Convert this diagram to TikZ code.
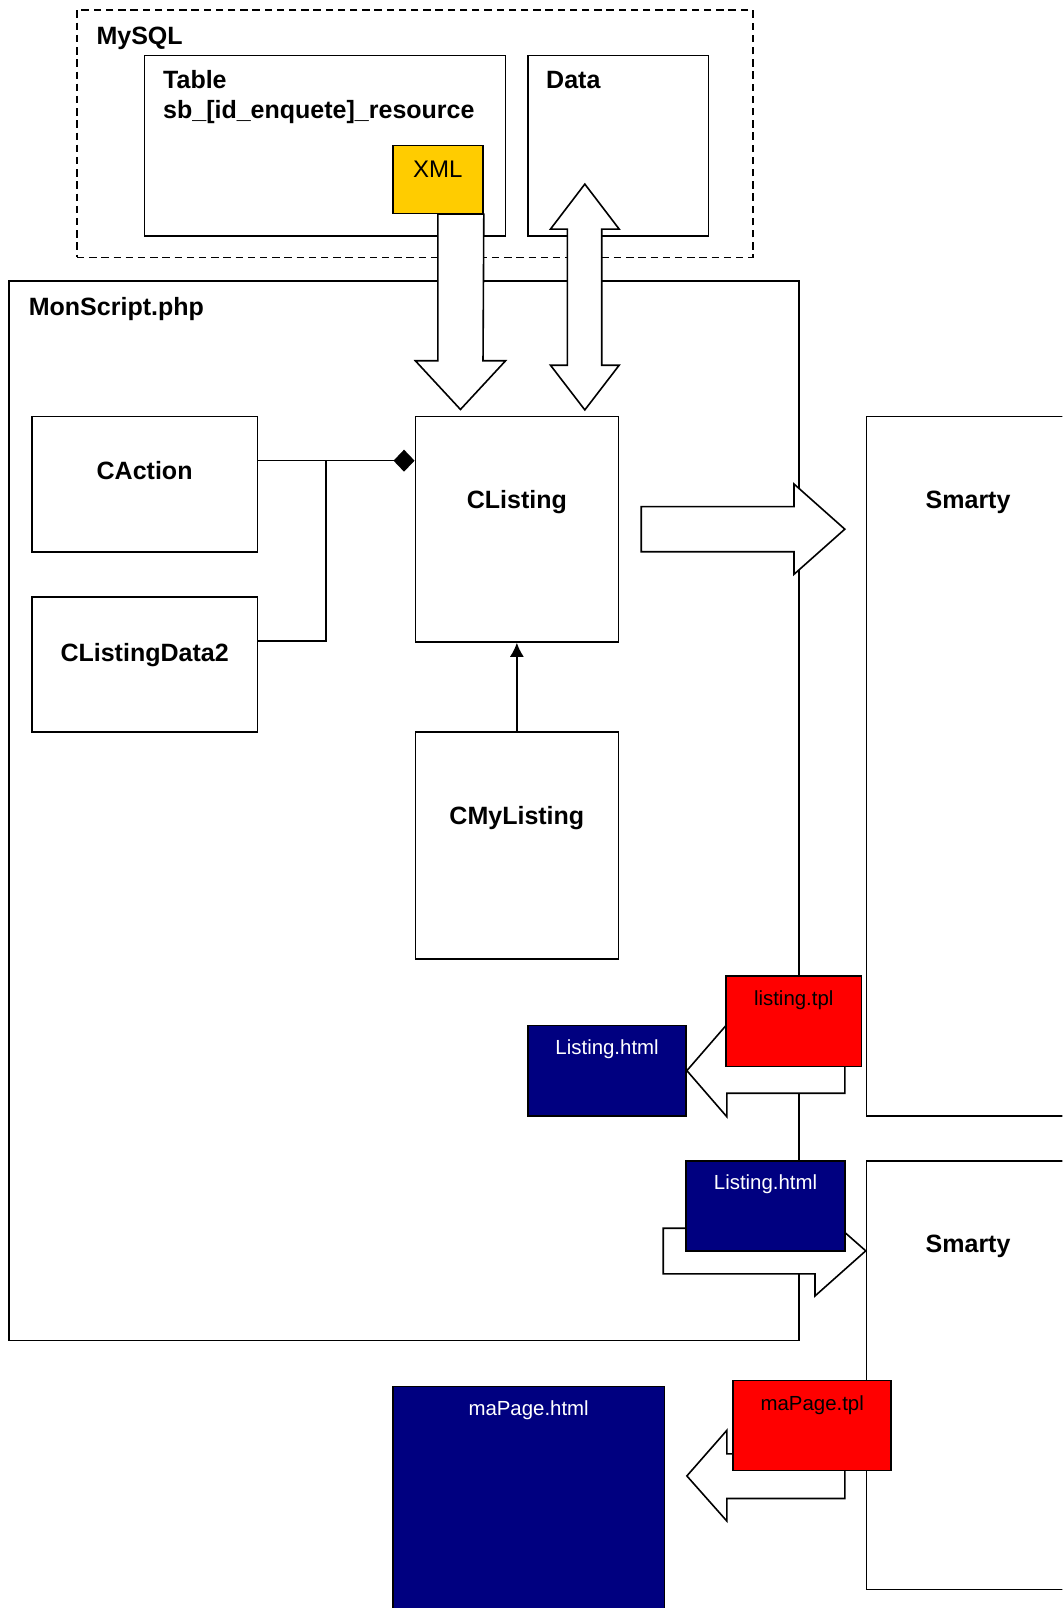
\documentclass[tikz,border=0pt]{standalone}
\usepackage{fontspec}
\setmainfont{Liberation Sans}
\usepackage{tikz}
\usetikzlibrary{arrows.meta,positioning,fit,calc}
\definecolor{xmlgold}{HTML}{FFCC00}
\definecolor{tplred}{HTML}{FF0000}
\definecolor{htmlnavy}{HTML}{000080}
\tikzstyle{box} = [draw, rectangle, fill=white, line width=0.8pt, inner sep=0pt]
\tikzstyle{group} = [box, fill=none, dash pattern=on 3.7pt off 2.4pt]
\tikzstyle{xmlbox} = [box, fill=xmlgold]
\tikzstyle{tplbox} = [box, fill=tplred]
\tikzstyle{htmlbox} = [box, fill=htmlnavy]
\tikzstyle{title} = [anchor=base west, inner sep=0pt, font=\fontsize{12.5}{15}\selectfont\bfseries]
\tikzstyle{classname} = [title, anchor=base]
\tikzstyle{filename} = [anchor=base, inner sep=0pt, font=\fontsize{10.2}{12}\selectfont]
\tikzstyle{fatarrow} = [draw, fill=white, line width=0.8pt, line join=miter]
\tikzstyle{connector} = [line width=0.8pt]

\begin{document}
\begin{tikzpicture}[x=0.5125pt, y=-0.5125pt]
    \path [use as bounding box] (0,0) rectangle (1036,1568);
    \clip (0,0) rectangle (1036,1568);

    \node (mysql) [group, fit={(75,10) (734,251)}] {};
    \node (table) [box, fit={(141,54) (493,230)}] {};
    \node (data) [box, fit={(515,54) (691,230)}] {};
    \node (monscript) [box, fit={(9,274) (779,1307)}] {};
    \node (caction) [box, fit={(31,406) (251,538)}] {};
    \node (cldata) [box, fit={(31,582) (251,714)}] {};
    \node (clisting) [box, fit={(405,406) (603,626)}] {};
    \node (cmylisting) [box, fit={(405,714) (603,935)}] {};
    \node (smarty) [box, fit={(845,406) (1043,1088)}] {};
    \node (smartypage) [box, fit={(845,1132) (1043,1550)}] {};
    \node (mapagehtml) [htmlbox, fit={(383,1352) (648,1600)}] {};
    \node (xml) [xmlbox, fit={(383,142) (471,208)}] {};
    \node (listinghtml) [htmlbox, fit={(515,1000) (669,1088)}] {};

    % big arrows
    \draw [fatarrow] (xml.south) -- ++(0,143) -- ++(-22,0) -- ++(44,47.5) -- ++(44,-47.5) -- ++(-22,0) -- (xml.south east) -- cycle;
    \draw [fatarrow] ($(clisting.north east)+(-33.5,-5.5)$) -- ++(33.5,-43.6) -- ++(-17,0) -- ++(0,-132.7) -- ++(17,0) -- ++(-33.5,-43.9)
        -- ++(-33.5,43.9) -- ++(16.5,0) -- ++(0,132.7) -- ++(-16.5,0) -- cycle;
    \draw [fatarrow] ($(clisting.east)+(21.5,-22)$) -- ++(149,0) -- ++(0,-22) -- ++(49.5,44) -- ++(-49.5,44) -- ++(0,-22) -- ++(-149,0) -- cycle;
    \draw [fatarrow] (listinghtml.east) -- ++(39,-45) -- ++(0,22) -- ++(115,0) -- ++(0,45) -- ++(-115,0) -- ++(0,23) -- cycle;
    \draw [fatarrow] ($(smartypage.north west)+(0,88.5)$) -- ++(-49.5,-43.5) -- ++(0,21.5) -- ++(-148,0) -- ++(0,44.5) -- ++(148,0) -- ++(0,21.5) -- cycle;
    \draw [fatarrow] ($(mapagehtml.north east)+(21,88)$) -- ++(39,-44.5) -- ++(0,23) -- ++(115,0) -- ++(0,43.5) -- ++(-115,0) -- ++(0,22) -- cycle;

    \node (listingtpl) [tplbox, fit={(708,952) (840,1040)}] {};
    \node (listingout) [htmlbox, fit={(669,1132) (824,1220)}] {};
    \node (mapagetpl) [tplbox, fit={(715,1346) (869,1434)}] {};

    % texts
    \node (mysql-t) [title] at ($(mysql.north west)+(19.5,34.5)$) {MySQL};
    \node (table-t) [title] at ($(table.north west)+(18.5,33.5)$) {Table};
    \node (table-n) [title] at ($(table.north west)+(18.5,62.5)$) {sb\_[id\_enquete]\_resource};
    \node (data-t) [title] at ($(data.north west)+(18,33.5)$) {Data};
    \node (xml-t) [filename, font=\fontsize{12}{14}\selectfont] at ($(xml.north)+(0,32)$) {XML};
    \node (monscript-t) [title] at ($(monscript.north west)+(19.5,34)$) {MonScript.php};
    \node (caction-t) [classname] at ($(caction.north)+(0,62.5)$) {CAction};
    \node (cldata-t) [classname] at ($(cldata.north)+(0,63.5)$) {CListingData2};
    \node (clisting-t) [classname] at ($(clisting.north)+(0,91)$) {CListing};
    \node (cmylisting-t) [classname] at ($(cmylisting.north)+(0,90.5)$) {CMyListing};
    \node (smarty-t) [classname] at ($(smarty.north)+(0,91)$) {Smarty};
    \node (smartypage-t) [classname] at ($(smartypage.north)+(0,90)$) {Smarty};
    \node (listingtpl-t) [filename] at ($(listingtpl.north)+(0,29.5)$) {listing.tpl};
    \node (listinghtml-t) [filename, text=white] at ($(listinghtml.north)+(0,29)$) {Listing.html};
    \node (listingout-t) [filename, text=white] at ($(listingout.north)+(0,28.5)$) {Listing.html};
    \node (mapagetpl-t) [filename] at ($(mapagetpl.north)+(0,29.8)$) {maPage.tpl};
    \node (mapagehtml-t) [filename, text=white] at ($(mapagehtml.north)+(0,29)$) {maPage.html};

    % class relations
    \coordinate (branch) at ($(caction.north east)+(66,44)$);
    \draw [connector] ($(caction.north east)+(0,44)$) -- (branch);
    \draw [connector] ($(cldata.north east)+(0,44)$) -| (branch);
    \draw [connector, -{Diamond[length=10.5pt,width=11pt]}] (branch) -- (branch -| clisting.west);
    \draw [connector, -{Latex[length=7pt,width=7pt]}] (cmylisting.north) -- (clisting.south);
\end{tikzpicture}
\end{document}
